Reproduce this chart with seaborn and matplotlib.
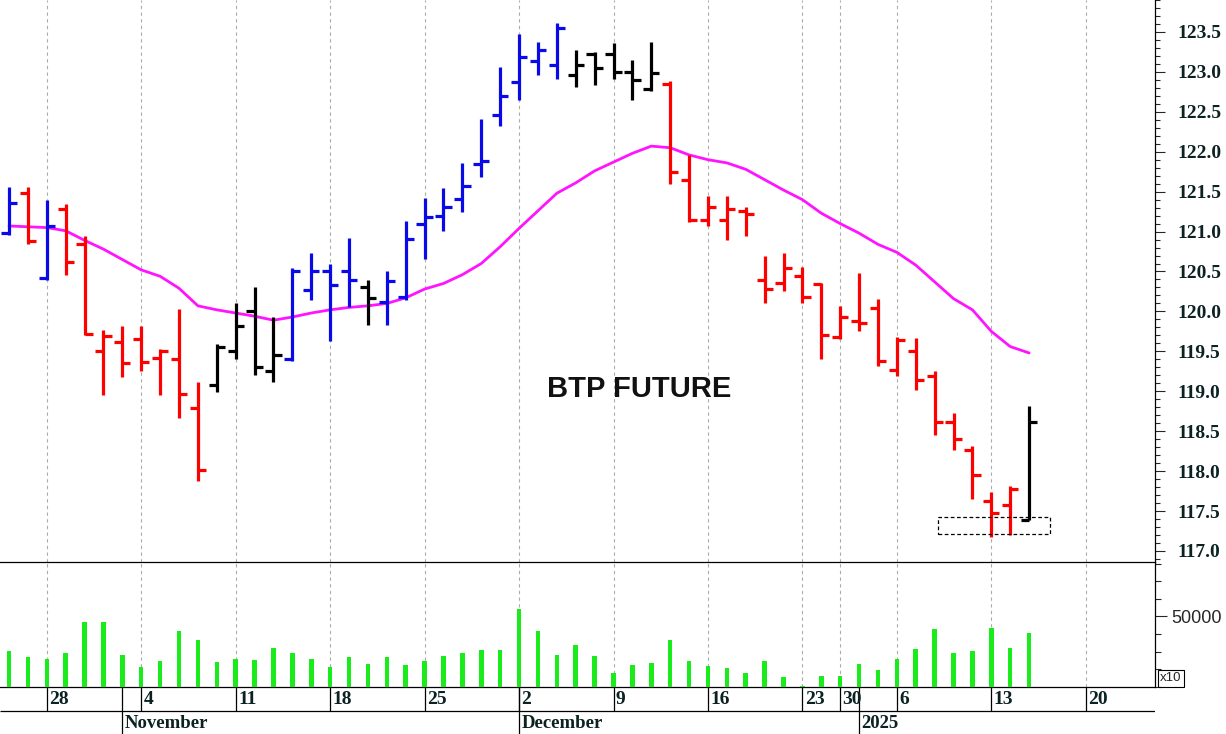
"""
BTP future - grafico a barre OHLC giornaliere con media mobile e volumi
"""
import numpy as np
import pandas as pd
import matplotlib
matplotlib.use("Agg")
import matplotlib.pyplot as plt
from matplotlib.patches import Rectangle
from matplotlib.ticker import MultipleLocator
import seaborn as sns

# --- DATI ---
# calendario sedute (Eurex chiuso 24-26/12, 31/12, 1/1)
chiusure_mercato = pd.to_datetime(["2024-12-24", "2024-12-25", "2024-12-26",
                                   "2024-12-31", "2025-01-01"])
sedute = pd.bdate_range("2024-10-24", "2025-01-20")
sedute = sedute[~sedute.isin(chiusure_mercato)]

apertura = [120.98, 121.48, 120.42, 121.28, 120.85, 119.50, 119.62, 119.65, 119.42, 119.40,
            118.79, 119.08, 119.50, 120.00, 119.25, 119.40, 120.27, 120.50, 120.50, 120.30,
            120.12, 120.18, 121.10, 121.20, 121.41, 121.85, 122.46, 122.87, 123.13, 123.08,
            122.96, 123.23, 123.23, 123.00, 122.78, 122.85, 121.65, 121.14, 121.15, 121.26,
            120.39, 120.35, 120.44, 120.34, 119.68, 119.88, 120.04, 119.27, 119.51, 119.19,
            118.61, 118.27, 117.63, 117.58, 117.39]
massimo = [121.56, 121.56, 121.40, 121.35, 120.94, 119.77, 119.82, 119.82, 119.53, 120.03,
           119.11, 119.59, 120.11, 120.30, 119.93, 120.54, 120.73, 120.60, 120.92, 120.39,
           120.51, 121.13, 121.42, 121.54, 121.86, 122.41, 123.06, 123.47, 123.38, 123.61,
           123.28, 123.25, 123.36, 123.15, 123.38, 122.88, 121.96, 121.45, 121.44, 121.31,
           120.69, 120.73, 120.56, 120.35, 120.07, 120.48, 120.16, 119.68, 119.67, 119.25,
           118.73, 118.32, 117.74, 117.82, 118.82]
minimo = [120.96, 120.84, 120.39, 120.46, 119.70, 118.95, 119.18, 119.25, 118.95, 118.66,
          117.88, 118.99, 119.40, 119.20, 119.12, 119.38, 120.14, 119.63, 120.06, 119.83,
          119.83, 120.14, 120.66, 121.01, 121.24, 121.68, 122.32, 122.65, 122.96, 122.91,
          122.81, 122.84, 122.91, 122.65, 122.76, 121.60, 121.12, 121.07, 120.89, 120.94,
          120.11, 120.25, 120.10, 119.41, 119.66, 119.75, 119.32, 119.19, 119.01, 118.45,
          118.26, 117.65, 117.17, 117.20, 117.39]
chiusura = [121.36, 120.88, 121.07, 120.62, 119.72, 119.69, 119.35, 119.37, 119.51, 118.97,
            118.01, 119.56, 119.82, 119.30, 119.45, 120.50, 120.50, 120.33, 120.39, 120.17,
            120.38, 120.91, 121.18, 121.31, 121.57, 121.89, 122.70, 123.19, 123.28, 123.55,
            123.09, 123.05, 123.00, 122.90, 122.99, 121.75, 121.14, 121.31, 121.28, 121.22,
            120.28, 120.55, 120.18, 119.71, 119.93, 119.85, 119.38, 119.64, 119.14, 118.61,
            118.40, 117.95, 117.47, 117.77, 118.61]
# segnale del sistema: su = blu, giu = rosso, neutro = nero
segnale = (["su", "giu", "su"] + ["giu"] * 8 + ["neutro"] * 4 + ["su"] * 4 + ["neutro"]
           + ["su"] * 10 + ["neutro"] * 5 + ["giu"] * 19 + ["neutro"])
media_mobile = [121.07, 121.06, 121.05, 121.01, 120.89, 120.78, 120.65, 120.52, 120.44, 120.29,
                120.07, 120.02, 119.98, 119.94, 119.89, 119.93, 119.98, 120.02, 120.05, 120.07,
                120.10, 120.17, 120.28, 120.35, 120.46, 120.60, 120.81, 121.04, 121.26, 121.48,
                121.61, 121.76, 121.87, 121.98, 122.07, 122.05, 121.96, 121.90, 121.86, 121.78,
                121.65, 121.52, 121.40, 121.23, 121.10, 120.98, 120.84, 120.74, 120.58, 120.37,
                120.16, 120.02, 119.75, 119.56, 119.48]
volume = [25250, 20800, 19400, 24300, 46250, 46250, 22900, 13700, 18200, 39400,
          33000, 17250, 19800, 19100, 27850, 24050, 20050, 13700, 20800, 15850,
          20800, 15150, 18200, 21900, 24050, 25950, 25950, 55450, 39400, 22900,
          30000, 21900, 10000, 15150, 16750, 33250, 17950, 14850, 13000, 9700,
          17950, 6650, 700, 7800, 7800, 15850, 11800, 20050, 27150, 41300,
          23850, 25250, 42000, 27850, 38450]

titolo = "BTP FUTURE"
# zona evidenziata (sedute, prezzi)
zona_x = [49.16, 55.12]
zona_y = [117.21, 117.42]

# --- STILE ---
sns.set_style("white")
plt.rcParams["font.family"] = ["Liberation Sans", "DejaVu Sans"]

COL_SEGNALE = {"su": "#0a0ae6", "giu": "#ff0000", "neutro": "#000000"}
COL_TESTO = "#0c2222"
SERIF = "Liberation Serif"
W, H = 1226, 734
X_MIN, X_MAX = -0.476, 60.68

fig = plt.figure(figsize=(W / 100, H / 100), dpi=100)
largh = 1155.3 / W
ax_v = fig.add_axes([0, (H - 686.7) / H, largh, 124.7 / H])
ax_p = fig.add_axes([0, (H - 562) / H, largh, 562 / H])
ax_d = fig.add_axes([0, 0, largh, 47.3 / H])
for a in (ax_v, ax_p, ax_d):
    a.patch.set_visible(False)

x = np.arange(len(chiusura))
colori = [COL_SEGNALE[s] for s in segnale]
lunedi = [i for i, d in enumerate(sedute) if d.weekday() == 0]
inizio_mese = [i for i in range(1, len(sedute)) if sedute[i].month != sedute[i - 1].month]

# --- PREZZI ---
for m in lunedi:
    ax_p.axvline(m, color="#ababab", lw=0.8, ls=(0, (3, 3)), zorder=1)
    ax_v.axvline(m, color="#ababab", lw=0.8, ls=(0, (3, 3)), zorder=1)

ax_p.vlines(x, minimo, massimo, colors=colori, lw=2.3, capstyle="butt", zorder=3)
ax_p.hlines(apertura, x - 0.43, x, colors=colori, lw=2.3, capstyle="butt", zorder=3)
ax_p.hlines(chiusura, x, x + 0.43, colors=colori, lw=2.3, capstyle="butt", zorder=3)

sns.lineplot(x=x, y=media_mobile, color="#ff14ff", lw=2.0, ax=ax_p, zorder=2)

ax_p.add_patch(Rectangle((zona_x[0], zona_y[0]), zona_x[1] - zona_x[0], zona_y[1] - zona_y[0],
                         fill=False, ec="black", lw=0.9, ls=(0, (3, 2)), zorder=4))
ax_p.text(33.35, 119.03, titolo, ha="center", va="center", fontsize=21,
          fontweight="bold", family="Liberation Sans", color="#111111")

ax_p.set_xlim(X_MIN, X_MAX)
ax_p.set_ylim(116.862, 123.90)
ax_p.set_xticks([])
ax_p.set_xlabel("")
ax_p.set_ylabel("")
ax_p.yaxis.tick_right()
tick_prezzo = np.arange(117.0, 123.51, 0.5)
ax_p.set_yticks(tick_prezzo, labels=[f"{t:.1f}" for t in tick_prezzo],
                fontweight="bold", family=SERIF, fontsize=14, color=COL_TESTO)
ax_p.yaxis.set_minor_locator(MultipleLocator(0.1))
ax_p.tick_params(axis="y", which="major", length=7.2, width=0.8, pad=8.5, direction="out")
ax_p.tick_params(axis="y", which="minor", length=3.6, width=0.8, direction="out")
for lato in ["top", "left"]:
    ax_p.spines[lato].set_visible(False)
for lato in ["right", "bottom"]:
    ax_p.spines[lato].set_linewidth(0.9)
    ax_p.spines[lato].set_color("black")

# --- VOLUMI ---
ax_v.bar(x, volume, width=0.24, color="#1aeb1a", lw=0, zorder=3)
ax_v.set_xlim(X_MIN, X_MAX)
ax_v.set_ylim(0, 88690)
ax_v.set_xticks([])
ax_v.yaxis.tick_right()
ax_v.set_yticks([50000], labels=["50000"], fontsize=13, family="Liberation Sans")
ax_v.yaxis.set_minor_locator(MultipleLocator(12500))
ax_v.tick_params(axis="y", which="major", length=8.6, width=0.8, pad=3)
ax_v.tick_params(axis="y", which="minor", length=4.3, width=0.8)
for lato in ["top", "left"]:
    ax_v.spines[lato].set_visible(False)
for lato in ["right", "bottom"]:
    ax_v.spines[lato].set_linewidth(0.9)
    ax_v.spines[lato].set_color("black")

# riquadro moltiplicatore
fig.add_artist(Rectangle((1158 / W, (H - 686.7) / H), 26 / W, 16.7 / H, fill=False,
                         ec="black", lw=0.8, transform=fig.transFigure))
fig.text(1171 / W, (H - 678.3) / H, "x10", ha="center", va="center", fontsize=9.5,
         family="Liberation Sans")

# --- ASSE DATE ---
ax_d.set_xlim(X_MIN, X_MAX)
ax_d.set_ylim(0, 47.3)
ax_d.axis("off")
ax_d.hlines(23, X_MIN, X_MAX, color="black", lw=0.9)
ax_d.vlines(lunedi, 23, 47.3, color="black", lw=0.9)
ax_d.vlines(inizio_mese, 0, 47.3, color="black", lw=0.9)
for m in lunedi:
    ax_d.text(m + 0.13, 35.0, str(sedute[m].day), ha="left", va="center", fontsize=14,
              fontweight="bold", family=SERIF, color=COL_TESTO)
for m in inizio_mese:
    nome = str(sedute[m].year) if sedute[m].month == 1 else sedute[m].strftime("%B")
    ax_d.text(m + 0.13, 10.5, nome, ha="left", va="center", fontsize=13.5,
              fontweight="bold", family=SERIF, color=COL_TESTO)

fig.savefig("out.png", dpi=100)
